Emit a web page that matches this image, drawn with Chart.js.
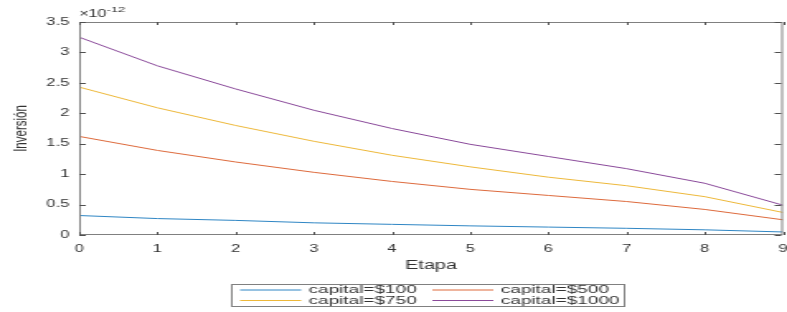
<!DOCTYPE html>
<html lang="es">
<head>
  <meta charset="UTF-8">
  <title>Inversion por etapa</title>
  <script src="https://cdn.jsdelivr.net/npm/chart.js"></script>
  <style>
    html, body { margin: 0; padding: 0; background: #fff; overflow: hidden; }
    /* the reference figure is stretched sideways, so the chart is drawn narrow and widened */
    #wrap { position: absolute; left: 0; top: 0; width: 477px; height: 312px;
            transform: scaleX(1.65); transform-origin: 0 0; }
  </style>
</head>
<body>
  <div id="wrap"><canvas id="invChart"></canvas></div>

  <script>
    // values are in units of 1e-12
    const etapas = [0, 1, 2, 3, 4, 5, 6, 7, 8, 9];
    const capital100  = [0.32, 0.27, 0.24, 0.20, 0.175, 0.15, 0.13, 0.11, 0.085, 0.05];
    const capital500  = [1.62, 1.39, 1.20, 1.03, 0.88, 0.75, 0.65, 0.55, 0.42, 0.25];
    const capital750  = [2.43, 2.09, 1.80, 1.54, 1.31, 1.12, 0.95, 0.81, 0.63, 0.37];
    const capital1000 = [3.25, 2.78, 2.40, 2.05, 1.75, 1.49, 1.29, 1.09, 0.85, 0.49];
    const seriesNames = ['capital=$100', 'capital=$500', 'capital=$750', 'capital=$1000'];
    const yTicks = [0, 0.5, 1, 1.5, 2, 2.5, 3, 3.5];
    const exponentText = '-12';

    const FONT = "'Liberation Sans', Arial, Helvetica, sans-serif";
    const TEXT = '#333333';
    const colors = ['#2f86c4', '#dd6a3c', '#edb83a', '#8a4a9a'];

    const toPoints = arr => arr.map((v, i) => ({ x: etapas[i], y: v }));

    const matlabBox = {
      id: 'matlabBox',
      afterDraw(chart) {
        const { ctx, chartArea: a, scales: { x, y } } = chart;
        ctx.save();
        ctx.lineWidth = 1;
        ctx.strokeStyle = '#808080';
        ctx.strokeRect(a.left + 0.5, a.top + 0.5, a.right - a.left - 1, a.bottom - a.top - 1);

        // ticks pointing inwards on all four sides
        ctx.strokeStyle = '#505050';
        ctx.beginPath();
        x.ticks.forEach(t => {
          const px = Math.round(x.getPixelForValue(t.value)) + 0.5;
          ctx.moveTo(px, a.bottom); ctx.lineTo(px, a.bottom - 3);
          ctx.moveTo(px, a.top); ctx.lineTo(px, a.top + 3);
        });
        y.ticks.forEach(t => {
          const py = Math.round(y.getPixelForValue(t.value)) + 0.5;
          ctx.moveTo(a.left, py); ctx.lineTo(a.left + 4, py);
          ctx.moveTo(a.right - 1, py); ctx.lineTo(a.right - 5, py);
        });
        ctx.stroke();

        // x 10^-12 multiplier
        ctx.fillStyle = TEXT;
        ctx.textBaseline = 'middle';
        ctx.textAlign = 'left';
        ctx.font = '10px ' + FONT;
        ctx.fillText('\u00d7', a.left, 14);
        ctx.fillText('10', a.left + 5.5, 14);
        ctx.font = '8px ' + FONT;
        ctx.fillText(exponentText, a.left + 16.5, 9.5);

        // legend, two columns
        const lx = 140.5, ly = 284.5, lw = 238, lh = 22;
        ctx.strokeStyle = '#808080';
        ctx.strokeRect(lx, ly, lw, lh);
        ctx.font = '11.5px ' + FONT;
        const cols = [lx + 5, lx + 121.5];
        const rows = [ly + 5, ly + 15.5];
        chart.data.datasets.forEach((ds, i) => {
          const cx = cols[i % 2], cy = rows[Math.floor(i / 2)];
          ctx.strokeStyle = ds.borderColor;
          ctx.beginPath();
          ctx.moveTo(cx, cy + 0.5); ctx.lineTo(cx + 37, cy + 0.5);
          ctx.stroke();
          ctx.fillStyle = TEXT;
          ctx.fillText(ds.label, cx + 41.5, cy + 0.5);
        });
        ctx.restore();
      }
    };

    new Chart(document.getElementById('invChart').getContext('2d'), {
      type: 'line',
      data: {
        datasets: [capital100, capital500, capital750, capital1000].map((arr, i) => ({
          label: seriesNames[i],
          data: toPoints(arr),
          borderColor: colors[i],
          borderWidth: 1,
          pointRadius: 0,
          tension: 0,
          fill: false
        }))
      },
      options: {
        responsive: true,
        maintainAspectRatio: false,
        animation: false,
        layout: { padding: { top: 22, right: 2.5, bottom: 37, left: 0 } },
        plugins: { legend: { display: false }, tooltip: { enabled: false } },
        scales: {
          x: {
            type: 'linear',
            min: 0,
            max: 9,
            afterFit: s => { s.height = 40; s.paddingLeft = 0; s.paddingRight = 0; },
            grid: { display: false, drawTicks: false },
            border: { display: false },
            ticks: { stepSize: 1, padding: 8, maxRotation: 0, color: TEXT, font: { family: FONT, size: 10 } },
            title: { display: true, text: 'Etapa', color: TEXT, font: { family: FONT, size: 12 },
                     padding: { top: 0, bottom: 2.5 } }
          },
          y: {
            min: 0,
            max: 3.5,
            afterFit: s => { s.width = 48; s.paddingTop = 0; s.paddingBottom = 0; },
            afterBuildTicks: s => { s.ticks = yTicks.map(v => ({ value: v })); },
            grid: { display: false, drawTicks: false },
            border: { display: false },
            ticks: { padding: 6, color: TEXT, font: { family: FONT, size: 10 }, callback: v => String(v) },
            title: { display: true, text: 'Inversión', color: TEXT, font: { family: FONT, size: 11.5 },
                     padding: { top: 5.5, bottom: 0 } }
          }
        }
      },
      plugins: [matlabBox]
    });
  </script>
</body>
</html>
